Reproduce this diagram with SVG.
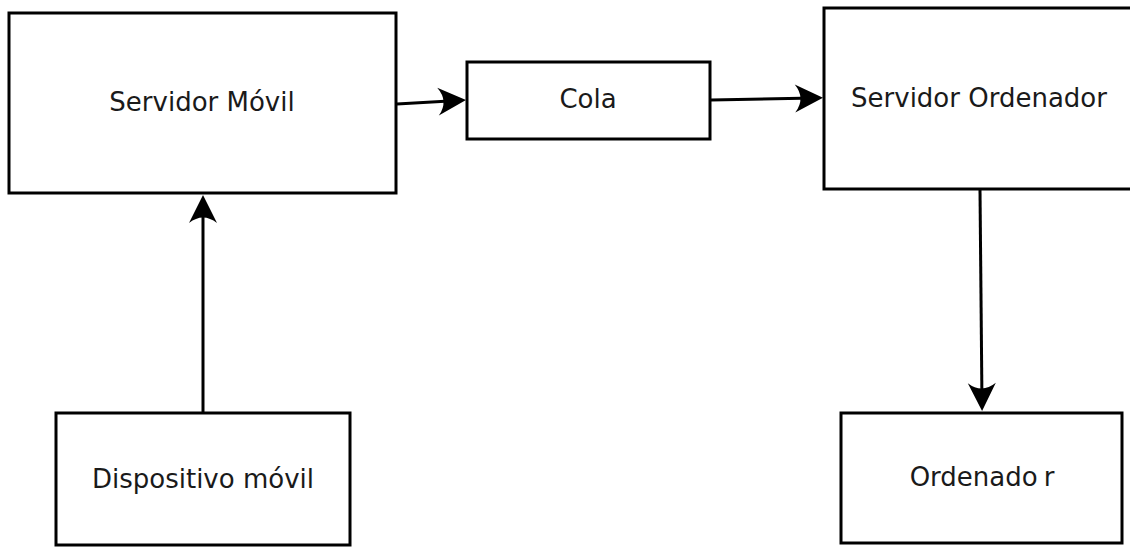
<svg xmlns="http://www.w3.org/2000/svg" width="1130" height="547" viewBox="0 0 1130 547">
  <style>
    .box { fill: #ffffff; stroke: #000000; stroke-width: 3; }
    .label { font-family: "DejaVu Sans", "Liberation Sans", sans-serif; font-size: 26px; fill: #1a1a1a; text-anchor: middle; }
    .edge { fill: none; stroke: #000000; stroke-width: 3; }
  </style>
  <defs>
    <marker id="arrow" markerUnits="userSpaceOnUse" viewBox="-22 -16 32 32" markerWidth="32" markerHeight="32" refX="0" refY="0" orient="auto">
      <path d="M8,0 L-20,-14 Q-9,0 -20,14 Z" fill="#000000"/>
    </marker>
  </defs>
  <rect width="1130" height="547" fill="#ffffff"/>

  <g id="connectors">
    <line class="edge" x1="397" y1="104" x2="458" y2="100.5" marker-end="url(#arrow)"/>
    <line class="edge" x1="711" y1="100" x2="815" y2="98" marker-end="url(#arrow)"/>
    <line class="edge" x1="203" y1="412" x2="203" y2="203" marker-end="url(#arrow)"/>
    <line class="edge" x1="980" y1="190" x2="982" y2="403" marker-end="url(#arrow)"/>
  </g>

  <g id="servidor-movil">
    <rect class="box" x="9" y="13" width="387" height="180"/>
    <text class="label" x="202" y="111">Servidor Móvil</text>
  </g>

  <g id="cola">
    <rect class="box" x="467" y="62" width="243" height="77"/>
    <text class="label" x="588" y="108">Cola</text>
  </g>

  <g id="servidor-ordenador">
    <rect class="box" x="824" y="8" width="330" height="181"/>
    <text class="label" x="979" y="107">Servidor Ordenador</text>
  </g>

  <g id="dispositivo-movil">
    <rect class="box" x="56" y="413" width="294" height="132"/>
    <text class="label" x="203" y="488">Dispositivo móvil</text>
  </g>

  <g id="ordenador">
    <rect class="box" x="841" y="413" width="281" height="130"/>
    <text class="label" x="982" y="486">Ordenado<tspan dx="6">r</tspan></text>
  </g>
</svg>
